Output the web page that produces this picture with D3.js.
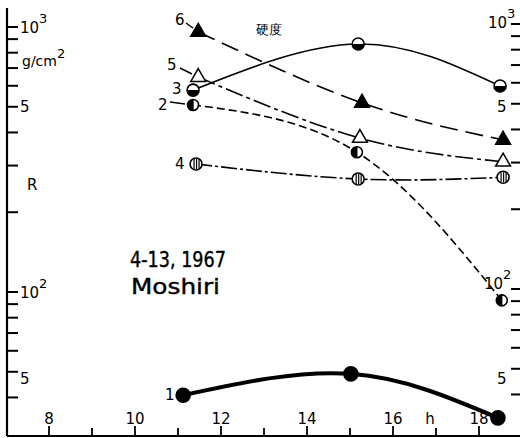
<!DOCTYPE html>
<html><head><meta charset="utf-8">
<script src="https://cdn.jsdelivr.net/npm/d3@7"></script>
<style>body{margin:0;background:#fff}svg{display:block}text{font-family:"DejaVu Sans",sans-serif;fill:#000}</style>
</head><body>
<svg id="c" width="520" height="438"></svg>
<script>
// Data (hour of day, R in g/cm^2)
const s1x = [11.12, 15.02, 18.44], s1y = [40.8, 49.1, 33.5];
const s2x = [11.35, 15.16, 18.53], s2y = [508, 337, 93];
const s3x = [11.35, 15.19, 18.49], s3y = [578, 863, 599];
const s4x = [11.42, 15.19, 18.56], s4y = [304, 267, 271];
const s5x = [11.47, 15.23, 18.56], s5y = [647, 381, 310];
const s6x = [11.47, 15.28, 18.56], s6y = [958, 517, 375];
const xTicksMajor = [8, 10, 12, 14, 16, 18];
const xTicksMinor = [9, 11, 13, 15, 17];
const yTicks = [40, 50, 60, 70, 80, 90, 100, 200, 300, 400, 500, 600, 700, 800, 900, 1000];
const seriesLabels = ["1", "2", "3", "4", "5", "6"];

const svg = d3.select("#c");
const x = d3.scaleLinear().domain([8, 18]).range([49, 479]);
const y = d3.scaleLog().domain([100, 1000]).range([292, 27]);

// axes
const axX0 = 7, axY0 = 436;
svg.append("line").attr("x1", axX0).attr("x2", axX0).attr("y1", 8).attr("y2", axY0).attr("stroke", "#000").attr("stroke-width", 2.2);
svg.append("line").attr("x1", axX0).attr("x2", 520).attr("y1", axY0).attr("y2", axY0).attr("stroke", "#000").attr("stroke-width", 2.2);

yTicks.forEach(v => {
  svg.append("line").attr("x1", axX0).attr("x2", axX0 + 11).attr("y1", y(v)).attr("y2", y(v)).attr("stroke", "#000").attr("stroke-width", 2);
  svg.append("line").attr("x1", 511).attr("x2", 520).attr("y1", y(v) - 3).attr("y2", y(v) - 3).attr("stroke", "#000").attr("stroke-width", 2);
});
xTicksMajor.forEach(v => {
  svg.append("line").attr("x1", x(v)).attr("x2", x(v)).attr("y1", axY0).attr("y2", axY0 - 10).attr("stroke", "#000").attr("stroke-width", 1.8);
  svg.append("text").attr("x", x(v)).attr("y", 424).attr("text-anchor", "middle").attr("font-size", 15).text(v);
});
xTicksMinor.forEach(v => {
  svg.append("line").attr("x1", x(v)).attr("x2", x(v)).attr("y1", axY0).attr("y2", axY0 - 8).attr("stroke", "#000").attr("stroke-width", 1.8);
});
svg.append("text").attr("x", 430).attr("y", 424).attr("text-anchor", "middle").attr("font-size", 15).text("h");

function pow(g, xx, yy, base, exp, anchor) {
  const t = g.append("text").attr("x", xx).attr("y", yy).attr("font-size", 15).attr("text-anchor", anchor || "start");
  t.append("tspan").text(base);
  t.append("tspan").attr("dy", -10).attr("font-size", 13).text(exp);
}
pow(svg, 20, 33, "10", "3");
svg.append("text").attr("x", 22).attr("y", 66).attr("font-size", 14).text("g/cm").append("tspan").attr("dy", -8).attr("font-size", 13).text("2");
svg.append("text").attr("x", 20).attr("y", 112).attr("font-size", 15).text("5");
svg.append("text").attr("x", 27).attr("y", 190).attr("font-size", 15).text("R");
pow(svg, 20, 298, "10", "2");
svg.append("text").attr("x", 20).attr("y", 384).attr("font-size", 15).text("5");
pow(svg, 488, 28, "10", "3");
svg.append("text").attr("x", 497).attr("y", 112).attr("font-size", 15).text("5");
pow(svg, 484, 289, "10", "2");
svg.append("text").attr("x", 497).attr("y", 384).attr("font-size", 15).text("5");

svg.append("text").attr("x", 256).attr("y", 34).attr("font-size", 13).attr("font-family", "Noto Sans CJK JP").text("硬度");
svg.append("text").attr("x", 130).attr("y", 267).attr("font-size", 21).attr("stroke", "#000").attr("stroke-width", 0.4)
  .attr("textLength", 96).attr("lengthAdjust", "spacingAndGlyphs").text("4-13, 1967");
svg.append("text").attr("x", 131).attr("y", 294).attr("font-size", 21).attr("stroke", "#000").attr("stroke-width", 0.4)
  .attr("textLength", 89).attr("lengthAdjust", "spacingAndGlyphs").text("Moshiri");

// lines
const line = d3.line().x(d => x(d[0])).y(d => y(d[1])).curve(d3.curveNatural);
const zip = (a, b) => a.map((v, i) => [v, b[i]]);
const series = [
  {xs: s1x, ys: s1y, w: 4, dash: null},
  {xs: s2x, ys: s2y, w: 1.6, dash: "8,4"},
  {xs: s3x, ys: s3y, w: 1.6, dash: null},
  {xs: s4x, ys: s4y, w: 1.6, dash: "16,3,3,3"},
  {xs: s5x, ys: s5y, w: 1.6, dash: "18,4,4,4"},
  {xs: s6x, ys: s6y, w: 1.6, dash: "18,8"}
];
series.forEach(s => {
  svg.append("path").attr("d", line(zip(s.xs, s.ys))).attr("fill", "none").attr("stroke", "#000")
    .attr("stroke-width", s.w).attr("stroke-dasharray", s.dash);
});

// markers
function circ(px, py, r, fill) {
  return svg.append("circle").attr("cx", px).attr("cy", py).attr("r", r).attr("fill", fill).attr("stroke", "#000").attr("stroke-width", 1.6);
}
function tri(px, py, fill) {
  svg.append("path").attr("transform", `translate(${px},${py})`)
    .attr("d", d3.symbol(d3.symbolTriangle, 95)()).attr("fill", fill).attr("stroke", "#000").attr("stroke-width", 1.5);
}
zip(s1x, s1y).forEach(d => circ(x(d[0]), y(d[1]), 7, "#000"));
zip(s2x, s2y).forEach(d => {
  const px = x(d[0]), py = y(d[1]), r = 5.5;
  circ(px, py, r, "#fff");
  svg.append("path").attr("d", `M${px},${py - r}A${r},${r} 0 0 0 ${px},${py + r}Z`).attr("fill", "#000");
  svg.append("line").attr("x1", px).attr("x2", px).attr("y1", py - r).attr("y2", py + r).attr("stroke", "#000").attr("stroke-width", 1.2);
});
zip(s3x, s3y).forEach(d => {
  const px = x(d[0]), py = y(d[1]), r = 6;
  circ(px, py, r, "#fff");
  svg.append("path").attr("d", `M${px - r},${py}A${r},${r} 0 0 0 ${px + r},${py}Z`).attr("fill", "#000");
});
zip(s4x, s4y).forEach(d => {
  const px = x(d[0]), py = y(d[1]), r = 6;
  circ(px, py, r, "#fff");
  [-2, 0.5, 3].forEach(o => svg.append("line").attr("x1", px + o).attr("x2", px + o).attr("y1", py - r + 1).attr("y2", py + r - 1).attr("stroke", "#000").attr("stroke-width", 1.2));
});
zip(s5x, s5y).forEach(d => tri(x(d[0]), y(d[1]), "#fff"));
zip(s6x, s6y).forEach(d => tri(x(d[0]), y(d[1]), "#000"));

// series labels with leaders
const lab = [
  {t: seriesLabels[0], x: 165, y: 400},
  {t: seriesLabels[1], x: 158, y: 110},
  {t: seriesLabels[2], x: 172, y: 94},
  {t: seriesLabels[3], x: 175, y: 169},
  {t: seriesLabels[4], x: 167, y: 70},
  {t: seriesLabels[5], x: 175, y: 25}
];
lab.forEach(l => svg.append("text").attr("x", l.x).attr("y", l.y).attr("font-size", 15).text(l.t));
svg.append("line").attr("x1", 170).attr("y1", 102).attr("x2", 185).attr("y2", 104).attr("stroke", "#000").attr("stroke-width", 1.4);
svg.append("line").attr("x1", 180).attr("y1", 68).attr("x2", 192).attr("y2", 74).attr("stroke", "#000").attr("stroke-width", 1.4);
svg.append("line").attr("x1", 186).attr("y1", 23).attr("x2", 193).attr("y2", 28).attr("stroke", "#000").attr("stroke-width", 1.4);
</script>
</body></html>
